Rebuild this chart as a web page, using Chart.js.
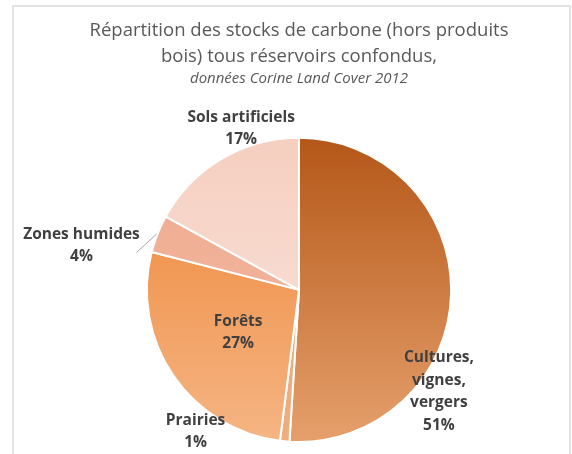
<!DOCTYPE html>
<html><head><meta charset="utf-8">
<script src="https://cdn.jsdelivr.net/npm/chart.js@4.4.1/dist/chart.umd.min.js"></script>
<style>html,body{margin:0;padding:0;background:#fff}#wrap{width:572px;height:454px;position:relative}</style>
</head><body><div id="wrap"><canvas id="c" width="572" height="454"></canvas></div>
<script>
const categories = ["Cultures, vignes, vergers", "Prairies", "Forêts", "Zones humides", "Sols artificiels"];
const labelLines = [["Cultures,", "vignes,", "vergers"], ["Prairies"], ["Forêts"], ["Zones humides"], ["Sols artificiels"]];
const values = [51, 1, 27, 4, 17];
const titleLines = ["Répartition des stocks de carbone (hors produits", "bois) tous réservoirs confondus,"];
const subtitleText = "données Corine Land Cover 2012";

// styling (not data)
const gradStops = [["#B45718", "#E6A06C"], ["#E9A674", "#EDAE80"], ["#EE8434", "#F5B584"], ["#EFAB90", "#F2B9A2"], ["#F5CFC0", "#FAE6DE"]];
const labelPlace = [[0.92, 0.67], [-0.68, 0.93], [-0.40, 0.28], [-1.43, -0.29], [-0.38, -1.06]];
const leader = [false, false, false, true, false];

const FONT = "'Open Sans', sans-serif";

const framePlugin = {
  id: 'frame',
  beforeDraw(chart) {
    const ctx = chart.ctx;
    ctx.save();
    ctx.strokeStyle = '#E3E3E3';
    ctx.lineWidth = 2;
    ctx.beginPath();
    ctx.moveTo(13, 460); ctx.lineTo(13, 6); ctx.lineTo(570, 6); ctx.lineTo(570, 460);
    ctx.stroke();
    ctx.restore();
  }
};

const labelPlugin = {
  id: 'sliceLabels',
  afterDatasetsDraw(chart) {
    const ctx = chart.ctx;
    const meta = chart.getDatasetMeta(0);
    const total = values.reduce((a, b) => a + b, 0);
    ctx.save();
    ctx.font = "bold 15.5px " + FONT;
    ctx.fillStyle = '#404040';
    ctx.textAlign = 'center';
    ctx.textBaseline = 'middle';
    meta.data.forEach((arc, i) => {
      const cx = arc.x, cy = arc.y, r = arc.outerRadius;
      const lx = cx + labelPlace[i][0] * r;
      const ly = cy + labelPlace[i][1] * r;
      const lines = labelLines[i].concat([Math.round(values[i] / total * 100) + "%"]);
      const lh = 22.5;
      const y0 = ly - (lines.length - 1) * lh / 2;
      lines.forEach((t, k) => ctx.fillText(t, lx, y0 + k * lh));
      if (leader[i]) {
        const mid = (arc.startAngle + arc.endAngle) / 2;
        const ex = cx + Math.cos(mid) * r, ey = cy + Math.sin(mid) * r;
        ctx.strokeStyle = '#A6A6A6';
        ctx.lineWidth = 1;
        ctx.beginPath();
        ctx.moveTo(lx + 55, y0 + 18);
        ctx.lineTo(ex - 1, ey);
        ctx.stroke();
      }
    });
    ctx.restore();
  }
};

function sliceFill(context) {
  const chart = context.chart;
  const area = chart.chartArea;
  if (!area) return gradStops[context.dataIndex][0];
  const g = chart.ctx.createLinearGradient(0, area.top, 0, area.bottom);
  g.addColorStop(0, gradStops[context.dataIndex][0]);
  g.addColorStop(1, gradStops[context.dataIndex][1]);
  return g;
}

new Chart(document.getElementById('c'), {
  type: 'pie',
  data: {
    labels: categories,
    datasets: [{
      data: values,
      backgroundColor: sliceFill,
      borderColor: '#FFFFFF',
      borderWidth: 2
    }]
  },
  options: {
    responsive: false,
    animation: false,
    layout: { padding: { left: 26, right: 0, top: 0, bottom: 11 } },
    plugins: {
      legend: { display: false },
      tooltip: { enabled: false },
      title: {
        display: true, text: titleLines, color: '#595959',
        font: { family: FONT, size: 18.5, weight: 'normal', lineHeight: 1.4 },
        padding: { top: 18, bottom: 0 }
      },
      subtitle: {
        display: true, text: subtitleText, color: '#595959',
        font: { family: FONT, size: 15, style: 'italic', lineHeight: 1.2 },
        padding: { top: 0, bottom: 49 }
      }
    }
  },
  plugins: [framePlugin, labelPlugin]
});
</script>
</body></html>
